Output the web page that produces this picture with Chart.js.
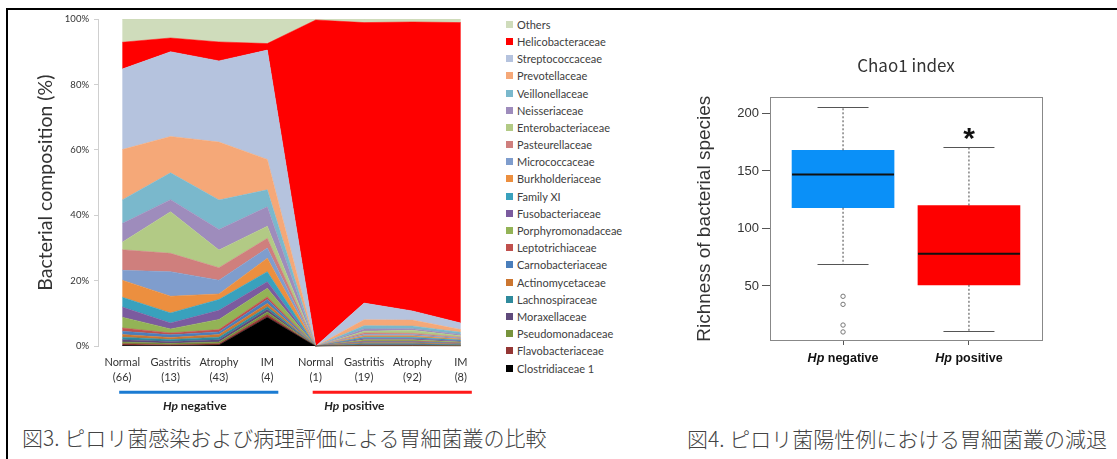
<!DOCTYPE html>
<html>
<head>
<meta charset="utf-8">
<script src="https://cdn.jsdelivr.net/npm/chart.js@4.4.1/dist/chart.umd.min.js"></script>
<style>
  html, body { margin: 0; padding: 0; background: #fff; }
  body { width: 1117px; height: 459px; position: relative; overflow: hidden; }
  #frame { position: absolute; left: 6px; top: 8px; width: 1111px; height: 451px;
           border-top: 2.5px solid #000; border-left: 2.5px solid #000; box-sizing: border-box; }
  #compWrap { position: absolute; left: 10px; top: 8px; width: 480px; height: 404px; }
  #chaoWrap { position: absolute; left: 680px; top: 40px; width: 437px; height: 335px; }
  #legend { position: absolute; left: 506px; top: 15.7px; margin: 0; padding: 0; list-style: none;
            font: 11px Lato, sans-serif; color: #404040; }
  #legend li { height: 17.2px; display: flex; align-items: center; white-space: nowrap; }
  #legend span { display: inline-block; width: 7px; height: 7px; margin-right: 4px; }
  .caption { position: absolute; font: 300 21px "Noto Sans CJK JP", sans-serif; line-height: 21px;
             color: #444; white-space: nowrap; }
</style>
</head>
<body>
<div id="frame"></div>
<div id="compWrap"><canvas id="compChart"></canvas></div>
<ul id="legend"></ul>
<div id="chaoWrap"><canvas id="chaoChart"></canvas></div>
<div class="caption" style="left:22px; top:427px;">図3. ピロリ菌感染および病理評価による胃細菌叢の比較</div>
<div class="caption" style="left:687px; top:428px;">図4. ピロリ菌陽性例における胃細菌叢の減退</div>

<script>
// ---- relative abundance per group (%) ----
const categories = [
    ['Normal', '(66)'], ['Gastritis', '(13)'], ['Atrophy', '(43)'], ['IM', '(4)'],
    ['Normal', '(1)'], ['Gastritis', '(19)'], ['Atrophy', '(92)'], ['IM', '(8)']
];
const hpLabels = ['negative', 'positive'];

// stack order: bottom first
const clostridiaceae1    = [0.3, 0.2, 0.4, 8.9, 0, 0.1, 0.1, 0.0];
const flavobacteriaceae  = [0.5, 0.3, 0.4, 0.8, 0, 0.1, 0.1, 0.1];
const pseudomonadaceae   = [0.5, 0.4, 0.5, 0.8, 0, 0.1, 0.1, 0.1];
const moraxellaceae      = [0.7, 0.6, 0.7, 0.8, 0, 0.2, 0.2, 0.1];
const lachnospiraceae    = [0.8, 0.6, 0.8, 0.8, 0, 0.3, 0.3, 0.2];
const actinomycetaceae   = [0.8, 0.6, 0.8, 1.0, 0, 0.3, 0.3, 0.2];
const carnobacteriaceae  = [1.0, 0.8, 0.8, 1.2, 0, 0.3, 0.3, 0.2];
const leptotrichiaceae   = [1.0, 0.6, 0.7, 0.8, 0, 0.2, 0.2, 0.1];
const porphyromonadaceae = [3.3, 1.2, 3.1, 2.6, 0, 0.4, 0.4, 0.3];
const fusobacteriaceae   = [3.1, 1.8, 2.8, 2.0, 0, 0.4, 0.4, 0.3];
const familyXI           = [3.0, 3.1, 3.3, 3.1, 0, 0.4, 0.4, 0.3];
const burkholderiaceae   = [5.2, 5.1, 1.7, 4.1, 0, 0.4, 0.4, 0.3];
const micrococcaceae     = [3.0, 7.5, 4.2, 3.1, 0, 0.4, 0.4, 0.3];
const pasteurellaceae    = [6.3, 5.6, 3.8, 3.0, 0, 0.5, 0.4, 0.3];
const enterobacteriaceae = [2.3, 12.7, 5.4, 3.7, 0, 0.5, 0.9, 0.4];
const neisseriaceae      = [5.7, 3.7, 6.3, 5.9, 0, 0.7, 0.5, 0.4];
const veillonellaceae    = [7.2, 8.2, 9.0, 5.2, 0, 1.0, 0.8, 0.7];
const prevotellaceae     = [15.4, 11.1, 17.7, 9.3, 0, 1.8, 1.8, 0.8];
const streptococcaceae   = [24.6, 25.9, 24.8, 33.4, 0, 5.1, 2.8, 2.0];
const helicobacteraceae  = [8.2, 4.2, 5.8, 2.0, 99.7, 85.7, 88.3, 91.8];
const others             = [7.1, 5.8, 7.0, 7.5, 0.3, 1.1, 0.9, 1.1];

const familyNames = [
    'Clostridiaceae 1', 'Flavobacteriaceae', 'Pseudomonadaceae', 'Moraxellaceae', 'Lachnospiraceae',
    'Actinomycetaceae', 'Carnobacteriaceae', 'Leptotrichiaceae', 'Porphyromonadaceae', 'Fusobacteriaceae',
    'Family XI', 'Burkholderiaceae', 'Micrococcaceae', 'Pasteurellaceae', 'Enterobacteriaceae',
    'Neisseriaceae', 'Veillonellaceae', 'Prevotellaceae', 'Streptococcaceae', 'Helicobacteraceae', 'Others'
];
const familySeries = [
    clostridiaceae1, flavobacteriaceae, pseudomonadaceae, moraxellaceae, lachnospiraceae,
    actinomycetaceae, carnobacteriaceae, leptotrichiaceae, porphyromonadaceae, fusobacteriaceae,
    familyXI, burkholderiaceae, micrococcaceae, pasteurellaceae, enterobacteriaceae,
    neisseriaceae, veillonellaceae, prevotellaceae, streptococcaceae, helicobacteraceae, others
];
const familyColors = [
    '#000000', '#943634', '#77933c', '#5f4a7b', '#2f8a9c',
    '#cc7630', '#4a7ebb', '#c0504d', '#93b356', '#7b5b9f',
    '#39a1bd', '#ec8f3f', '#7f9dcd', '#cf7f7d', '#b2ca85',
    '#9e8cbc', '#7ab8cc', '#f5a878', '#b5c3de', '#ff0000', '#cfdcbb'
];

// ---- Chao1 richness ----
const chaoQ1 = [118, 51];
const chaoMedian = [147, 78];
const chaoQ3 = [168, 120];
const chaoWhiskerLow = [69, 11];
const chaoWhiskerHigh = [206, 171];
const chaoOutliers = [[41, 34, 16, 10], []];
const chaoTicks = [50, 100, 150, 200];
const boxColors = ['#0a90f8', '#fe0000'];

Chart.defaults.animation = false;
Chart.defaults.plugins.tooltip.enabled = false;

function drawHpLabel(ctx, word, cx, cy, family, size, color) {
    ctx.save();
    ctx.fillStyle = color;
    ctx.textBaseline = 'middle';
    ctx.textAlign = 'left';
    const italic = `italic bold ${size}px ${family}`;
    const bold = `bold ${size}px ${family}`;
    ctx.font = italic;
    const w1 = ctx.measureText('Hp').width;
    ctx.font = bold;
    const rest = ' ' + word;
    const w2 = ctx.measureText(rest).width;
    const x0 = cx - (w1 + w2) / 2;
    ctx.font = italic;
    ctx.fillText('Hp', x0, cy);
    ctx.font = bold;
    ctx.fillText(rest, x0 + w1, cy);
    ctx.restore();
}

// coloured brackets under the categories, one per Hp group
const groupSpans = [[0, 3], [4, 7]];
const groupLabelAt = [1.5, 4.8];
const groupColors = ['#1b7bd2', '#ff1a1a'];

const hpGroupBars = {
    id: 'hpGroupBars',
    afterDraw(chart) {
        const {ctx, chartArea, scales: {x}} = chart;
        const lineY = chartArea.bottom + 46;
        groupSpans.forEach(([a, b], i) => {
            ctx.save();
            ctx.strokeStyle = groupColors[i];
            ctx.lineWidth = 3;
            ctx.beginPath();
            ctx.moveTo(x.getPixelForValue(a) - 3, lineY);
            ctx.lineTo(x.getPixelForValue(b) + 11, lineY);
            ctx.stroke();
            ctx.restore();
            drawHpLabel(ctx, hpLabels[i], x.getPixelForValue(groupLabelAt[i]), lineY + 14, 'Lato', 12, '#222');
        });
    }
};

const compChart = new Chart(document.getElementById('compChart'), {
    type: 'line',
    data: {
        labels: categories,
        datasets: familyNames.map((name, i) => ({
            label: name,
            data: familySeries[i],
            backgroundColor: familyColors[i],
            borderColor: familyColors[i],
            borderWidth: 0.5,
            fill: i === 0 ? 'origin' : '-1',
            pointRadius: 0,
            tension: 0
        }))
    },
    options: {
        responsive: true,
        maintainAspectRatio: false,
        layout: { padding: { top: 11, right: 5, bottom: 18, left: 0 } },
        plugins: { legend: { display: false } },
        scales: {
            x: {
                offset: true,
                grid: { display: false, drawTicks: false },
                border: { display: false },
                ticks: {
                    padding: 9,
                    autoSkip: false,
                    maxRotation: 0,
                    color: '#333',
                    font: { family: 'Lato', size: 11, lineHeight: 1.35 }
                }
            },
            y: {
                stacked: true,
                min: 0,
                max: 100,
                afterFit(scale) { scale.width = 88; },
                grid: { drawOnChartArea: false, drawTicks: true, tickLength: 4, color: '#cfcfcf' },
                border: { display: true, color: '#cfcfcf' },
                ticks: {
                    stepSize: 20,
                    padding: 5,
                    color: '#333',
                    font: { family: 'Lato', size: 9.5 },
                    callback: v => v + '%'
                },
                title: {
                    display: true,
                    text: 'Bacterial composition (%)',
                    color: '#333',
                    font: { family: 'Lato', size: 19.5 },
                    padding: { top: 24, bottom: 0 }
                }
            }
        }
    },
    plugins: [hpGroupBars]
});

// legend listed top of stack first
const legendList = document.getElementById('legend');
Chart.defaults.plugins.legend.labels.generateLabels(compChart).reverse().forEach(item => {
    const li = document.createElement('li');
    const box = document.createElement('span');
    box.style.background = item.fillStyle;
    li.appendChild(box);
    li.appendChild(document.createTextNode(item.text));
    legendList.appendChild(li);
});

// whiskers, caps, medians, plot frame and group labels for the box plot
const boxPlotMarks = {
    id: 'boxPlotMarks',
    afterDatasetsDraw(chart) {
        const {ctx, chartArea, scales: {x, y}} = chart;
        ctx.save();
        chart.getDatasetMeta(0).data.forEach((bar, i) => {
            const cx = bar.x;
            const half = bar.width / 2;
            ctx.strokeStyle = '#444';
            ctx.lineWidth = 1;
            ctx.setLineDash([2, 2]);
            ctx.beginPath();
            ctx.moveTo(cx, y.getPixelForValue(chaoQ3[i]));
            ctx.lineTo(cx, y.getPixelForValue(chaoWhiskerHigh[i]));
            ctx.moveTo(cx, y.getPixelForValue(chaoQ1[i]));
            ctx.lineTo(cx, y.getPixelForValue(chaoWhiskerLow[i]));
            ctx.stroke();
            ctx.setLineDash([]);
            ctx.strokeStyle = '#555';
            ctx.beginPath();
            [chaoWhiskerHigh[i], chaoWhiskerLow[i]].forEach(v => {
                const py = Math.round(y.getPixelForValue(v)) + 0.5;
                ctx.moveTo(cx - half / 2, py);
                ctx.lineTo(cx + half / 2, py);
            });
            ctx.stroke();
            ctx.strokeStyle = '#111';
            ctx.lineWidth = 2;
            ctx.beginPath();
            const my = y.getPixelForValue(chaoMedian[i]);
            ctx.moveTo(cx - half, my);
            ctx.lineTo(cx + half, my);
            ctx.stroke();
        });
        // significance mark over the Hp positive group
        ctx.fillStyle = '#111';
        ctx.font = 'bold 30px Liberation Sans, Arial, sans-serif';
        ctx.textAlign = 'center';
        ctx.textBaseline = 'alphabetic';
        ctx.fillText('*', x.getPixelForValue(2), y.getPixelForValue(chaoWhiskerHigh[1]) + 1);
        ctx.strokeStyle = '#888';
        ctx.lineWidth = 1;
        ctx.strokeRect(Math.round(chartArea.left) + 0.5, Math.round(chartArea.top) + 0.5,
            Math.round(chartArea.width), Math.round(chartArea.height));
        ctx.restore();
        hpLabels.forEach((w, i) => {
            drawHpLabel(ctx, w, x.getPixelForValue(i + 1), chartArea.bottom + 19,
                'Liberation Sans, Arial, sans-serif', 12.5, '#111');
        });
    }
};

new Chart(document.getElementById('chaoChart'), {
    type: 'bar',
    data: {
        datasets: [
            {
                type: 'bar',
                data: hpLabels.map((_, i) => ({x: i + 1, y: [chaoQ1[i], chaoQ3[i]]})),
                backgroundColor: boxColors,
                borderWidth: 0,
                barThickness: 102
            },
            {
                type: 'scatter',
                data: chaoOutliers.flatMap((vals, i) => vals.map(v => ({x: i + 1, y: v}))),
                pointRadius: 2.2,
                borderWidth: 1,
                borderColor: '#777',
                backgroundColor: '#fff'
            }
        ]
    },
    options: {
        responsive: true,
        maintainAspectRatio: false,
        layout: { padding: { top: 0, right: 75, bottom: 30, left: 0 } },
        plugins: {
            legend: { display: false },
            title: {
                display: true,
                fullSize: false,
                text: 'Chao1 index',
                color: '#333',
                font: { family: 'Noto Sans CJK JP', size: 17, weight: 'normal' },
                padding: { top: 15, bottom: 22 }
            }
        },
        scales: {
            x: {
                type: 'linear',
                min: 0.42,
                max: 2.58,
                offset: false,
                afterBuildTicks(scale) { scale.ticks = hpLabels.map((_, i) => ({value: i + 1})); },
                grid: { drawOnChartArea: false, drawTicks: true, tickLength: 5, color: '#555', offset: false },
                border: { display: false },
                ticks: { display: false }
            },
            y: {
                min: 3,
                max: 214,
                afterBuildTicks(scale) { scale.ticks = chaoTicks.map(v => ({value: v})); },
                afterFit(scale) { scale.width = 90; },
                grid: { drawOnChartArea: false, drawTicks: true, tickLength: 8, color: '#555' },
                border: { display: false },
                ticks: { padding: 3, color: '#333', font: { family: 'Liberation Sans, Arial, sans-serif', size: 13 } },
                title: {
                    display: true,
                    text: 'Richness of bacterial species',
                    color: '#333',
                    font: { family: 'Liberation Sans, Arial, sans-serif', size: 19 },
                    padding: { top: 13, bottom: 0 }
                }
            }
        }
    },
    plugins: [boxPlotMarks]
});
</script>
</body>
</html>
